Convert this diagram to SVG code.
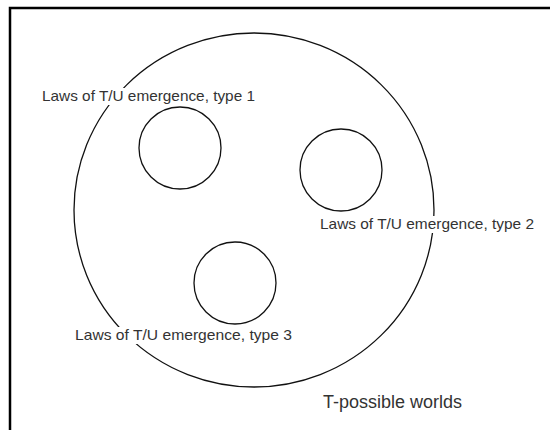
<svg xmlns="http://www.w3.org/2000/svg" width="550" height="430" viewBox="0 0 550 430">
<style>
.c{fill:none;stroke:#111;stroke-width:1.3}
.t{font-family:"Liberation Sans",Arial,sans-serif;font-size:15px;fill:#333}
.bg{fill:#fff}
</style>
<rect x="0" y="0" width="550" height="430" fill="#fff"/>
<path d="M10,431 V8 H551" fill="none" stroke="#000" stroke-width="2.5"/>
<g id="worlds">
<ellipse class="c" cx="254" cy="210" rx="180" ry="177"/>
<text class="t" x="323" y="408" style="font-size:18px" textLength="139" lengthAdjust="spacingAndGlyphs">T-possible worlds</text>
</g>
<g id="type1">
<circle class="c" cx="180" cy="148" r="41"/>
<rect class="bg" x="40" y="88" width="217" height="17"/>
<text class="t" x="42" y="101" textLength="213" lengthAdjust="spacingAndGlyphs">Laws of T/U emergence, type 1</text>
</g>
<g id="type2">
<circle class="c" cx="341" cy="170" r="41"/>
<rect class="bg" x="318" y="216" width="218" height="17"/>
<text class="t" x="320" y="229" textLength="214" lengthAdjust="spacingAndGlyphs">Laws of T/U emergence, type 2</text>
</g>
<g id="type3">
<circle class="c" cx="235" cy="283" r="41"/>
<rect class="bg" x="73" y="327" width="221" height="17"/>
<text class="t" x="75" y="340" textLength="217" lengthAdjust="spacingAndGlyphs">Laws of T/U emergence, type 3</text>
</g>
<g id="connectors"></g>
</svg>
